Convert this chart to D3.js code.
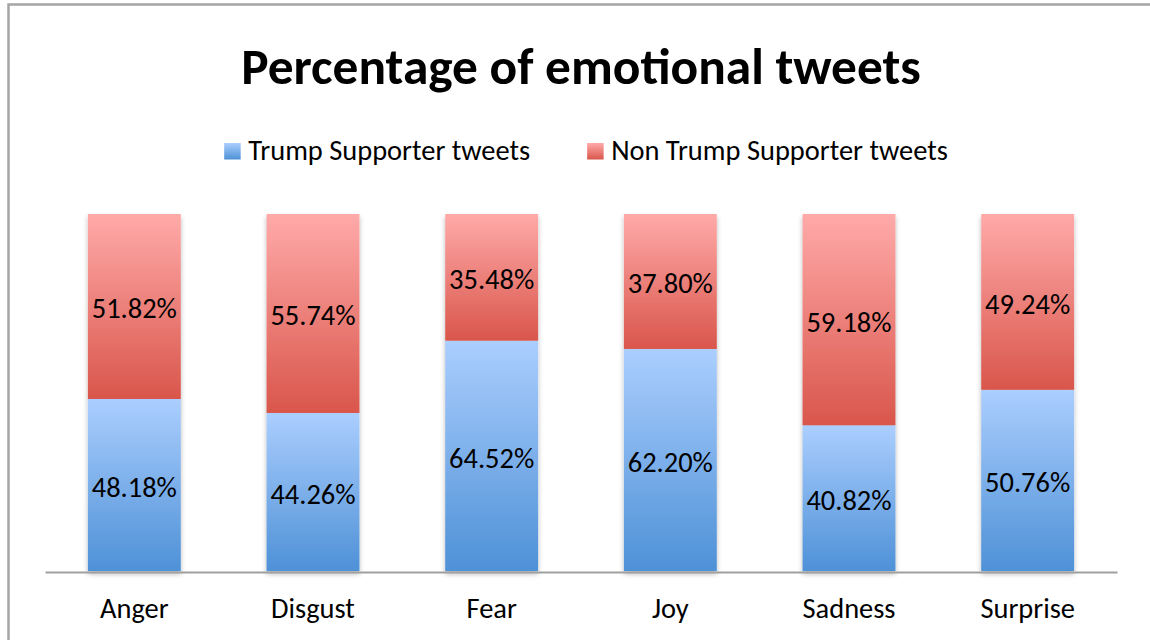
<!DOCTYPE html>
<html>
<head>
<meta charset="utf-8">
<script src="https://cdn.jsdelivr.net/npm/d3@7"></script>
<style>
  body { margin: 0; background: #fff; }
  svg { display: block; }
</style>
</head>
<body>
<svg id="chart" width="1150" height="640"></svg>
<script>
const categories = ["Anger", "Disgust", "Fear", "Joy", "Sadness", "Surprise"];
const trumpShare = [48.18, 44.26, 64.52, 62.20, 40.82, 50.76];
const nonTrumpShare = [51.82, 55.74, 35.48, 37.80, 59.18, 49.24];
const seriesNames = ["Trump Supporter tweets", "Non Trump Supporter tweets"];
const yTicks = [0, 100];
const TITLE = "Percentage of emotional tweets";

const FONT = "Carlito, Calibri, Lato, 'Open Sans', sans-serif";
const WIDTH = 1150, HEIGHT = 640;
const margin = {left: 45, right: 33, top: 214, bottom: 69};

const svg = d3.select("#chart");

// measure a string at 100px and scale the size so it reaches the wanted width
function fitSize(str, weight, targetWidth) {
    const t = svg.append("text")
        .attr("font-family", FONT).attr("font-weight", weight)
        .attr("font-size", 100).text(str);
    const w = t.node().getComputedTextLength();
    t.remove();
    return 100 * targetWidth / w;
}
const baseSize = fitSize("Trump Supporter tweets", "normal", 282);
const titleSize = fitSize(TITLE, "bold", 680);

const rows = categories.map((c, i) => ({
    category: c,
    [seriesNames[0]]: trumpShare[i],
    [seriesNames[1]]: nonTrumpShare[i]
}));
const stacked = d3.stack().keys(seriesNames)(rows);

const x = d3.scaleBand()
    .domain(categories)
    .range([margin.left, WIDTH - margin.right])
    .paddingInner(0.48)
    .paddingOuter(0.24);
const y = d3.scaleLinear()
    .domain(d3.extent(yTicks))
    .range([HEIGHT - margin.bottom, margin.top]);

const defs = svg.append("defs");
const gradStops = [
    {id: "grad-blue", top: "#abcefe", bottom: "#4e91d7"},
    {id: "grad-red", top: "#ffaaa9", bottom: "#d9564b"}
];
gradStops.forEach(g => {
    const lg = defs.append("linearGradient").attr("id", g.id)
        .attr("x1", 0).attr("y1", 0).attr("x2", 0).attr("y2", 1);
    lg.append("stop").attr("offset", "0%").attr("stop-color", g.top);
    lg.append("stop").attr("offset", "100%").attr("stop-color", g.bottom);
});
const shadow = defs.append("filter").attr("id", "bar-shadow")
    .attr("x", "-20%").attr("y", "-10%").attr("width", "140%").attr("height", "120%");
shadow.append("feDropShadow")
    .attr("dx", 0).attr("dy", 3).attr("stdDeviation", 2.5)
    .attr("flood-color", "#000").attr("flood-opacity", 0.28);

const color = d3.scaleOrdinal().domain(seriesNames).range(["url(#grad-blue)", "url(#grad-red)"]);

// chart frame (runs off the right and bottom of the picture)
svg.append("rect")
    .attr("x", 8.5).attr("y", 4.5)
    .attr("width", WIDTH + 20).attr("height", HEIGHT + 20)
    .attr("fill", "#fff")
    .attr("stroke", "#a5a5a5").attr("stroke-width", 2.5);

svg.append("text")
    .attr("x", (margin.left + WIDTH - margin.right) / 2)
    .attr("y", 84)
    .attr("text-anchor", "middle")
    .attr("font-family", FONT).attr("font-weight", "bold")
    .attr("font-size", titleSize)
    .attr("fill", "#000")
    .text(TITLE);

// legend
const legend = svg.append("g").attr("class", "legend");
let cursor = 0;
seriesNames.forEach((name, i) => {
    const item = legend.append("g").attr("transform", `translate(${cursor},0)`);
    item.append("rect")
        .attr("x", 0).attr("y", -17)
        .attr("width", 16.5).attr("height", 16.5)
        .attr("fill", color(name));
    const t = item.append("text")
        .attr("x", 24).attr("y", 0)
        .attr("font-family", FONT).attr("font-size", baseSize)
        .attr("fill", "#000")
        .text(name);
    cursor += 24 + t.node().getComputedTextLength() + 57;
});
const legendWidth = cursor - 57;
legend.attr("transform", `translate(${586 - legendWidth / 2},160)`);

// bars
const layers = svg.append("g").attr("filter", "url(#bar-shadow)")
    .selectAll("g")
    .data(stacked)
    .enter().append("g")
    .attr("fill", d => color(d.key));

layers.selectAll("rect")
    .data(d => d)
    .enter().append("rect")
    .attr("x", d => x(d.data.category))
    .attr("y", d => y(d[1]))
    .attr("width", x.bandwidth())
    .attr("height", d => y(d[0]) - y(d[1]));

// value labels
const labels = svg.append("g");
stacked.forEach(layer => {
    labels.selectAll(null)
        .data(layer)
        .enter().append("text")
        .attr("x", d => x(d.data.category) + x.bandwidth() / 2)
        .attr("y", d => (y(d[0]) + y(d[1])) / 2 + baseSize * 0.42)
        .attr("text-anchor", "middle")
        .attr("font-family", FONT).attr("font-size", baseSize)
        .attr("fill", "#000")
        .text(d => (d[1] - d[0]).toFixed(2) + "%");
});

// category axis
const axis = svg.append("g")
    .attr("transform", `translate(0,${y(0) + 1})`)
    .call(d3.axisBottom(x).tickSize(0).tickPadding(0));
axis.select(".domain").attr("stroke", "#a0a0a0").attr("stroke-width", 2.2);
axis.selectAll(".tick text")
    .attr("font-family", FONT).attr("font-size", baseSize)
    .attr("fill", "#000")
    .attr("dy", 0).attr("y", 46);
</script>
</body>
</html>
